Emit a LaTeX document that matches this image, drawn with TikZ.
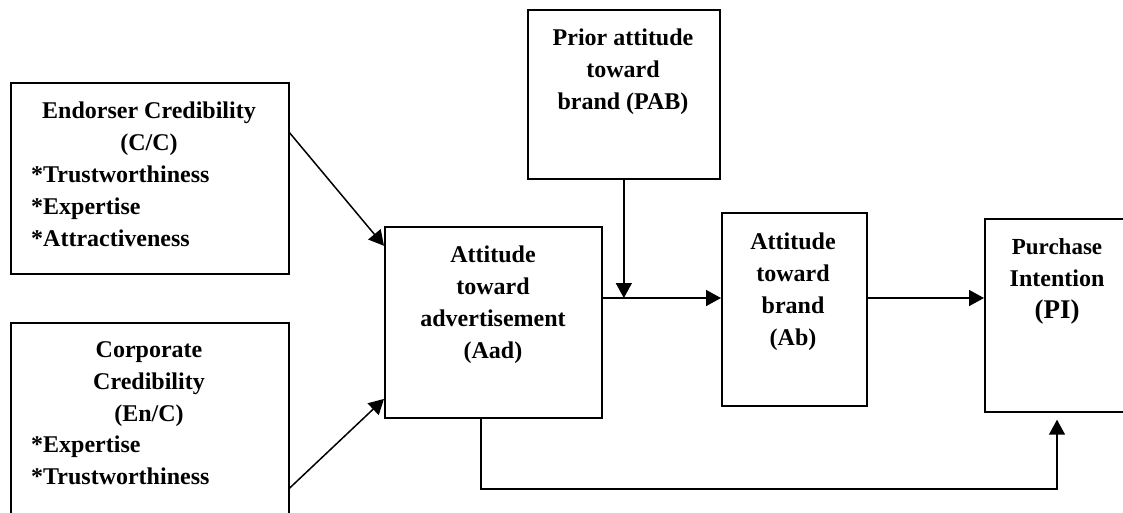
\documentclass[tikz,border=0pt]{standalone}
\usepackage{fontspec}
\setmainfont{Liberation Serif}
\usetikzlibrary{arrows.meta}
\tikzset{
  x=1pt,y=1pt,
  box/.style={draw, line width=1.7pt, inner sep=0pt, anchor=north west},
  txt/.style={inner sep=0pt, anchor=north, align=center, font=\fontsize{24}{32}\selectfont\bfseries},
  txtl/.style={inner sep=0pt, anchor=north west, align=left, font=\fontsize{24}{32}\selectfont\bfseries},
  conn/.style={line width=1.5pt, -{Triangle[length=15pt,width=16pt]}}
}
\begin{document}
\begin{tikzpicture}
\useasboundingbox (0,0) rectangle (1123,-512);
\clip (0,0) rectangle (1123,-512);
% boxes
\node[box, minimum width=278pt, minimum height=191pt] (EC) at (10,-82) {};
\node[box, minimum width=278pt, minimum height=200pt] (CC) at (10,-322) {};
\node[box, minimum width=217pt, minimum height=191pt] (Aad) at (384,-226) {};
\node[box, minimum width=192pt, minimum height=169pt] (PAB) at (527,-9) {};
\node[box, minimum width=145pt, minimum height=193pt] (Ab) at (721,-212) {};
\node[box, minimum width=160pt, minimum height=193pt] (PI) at (984,-218) {};
% texts
\node[txt] (ECt) at (149,-95.6) {\strut Endorser Credibility\\(C/C)};
\node[txtl] (ECl) at (31,-159.6) {\strut *Trustworthiness\\*Expertise\\*Attractiveness};
\node[txt] (CCt) at (149,-334.6) {\strut Corporate\\Credibility\\(En/C)};
\node[txtl] (CCl) at (31,-429.6) {\strut *Expertise\\*Trustworthiness};
\node[txt] (Aadt) at (493,-239.6) {\strut Attitude\\toward\\advertisement\\(Aad)};
\node[txt] (PABt) at (623,-22.6) {\strut Prior attitude\\toward\\brand (PAB)};
\node[txt] (Abt) at (793,-226.6) {\strut Attitude\\toward\\brand\\(Ab)};
\node[txt] (PIt) at (1057,-231.6) {\fontsize{23}{32}\selectfont\strut Purchase\\Intention\\{\fontsize{27}{39}\selectfont\strut (PI)}};
% connectors
\coordinate (J) at (PAB.south |- 0,-298);
\coordinate (B1) at (481,-489);
\coordinate (B2) at (1057,-489);
\draw[conn] (EC.18) -- (Aad.145);
\draw[conn] (CC.east |- 0,-488) -- (Aad.215);
\draw[conn] (PAB.south) -- (J);
\draw[conn] (Aad.east |- J) -- (Ab.west |- J);
\draw[conn] (Ab.east |- J) -- (PI.west |- J);
\draw[conn, shorten >=7pt] (Aad.south -| B1) -- (B1) -- (B2) -- (PI.south -| B2);
\end{tikzpicture}
\end{document}
